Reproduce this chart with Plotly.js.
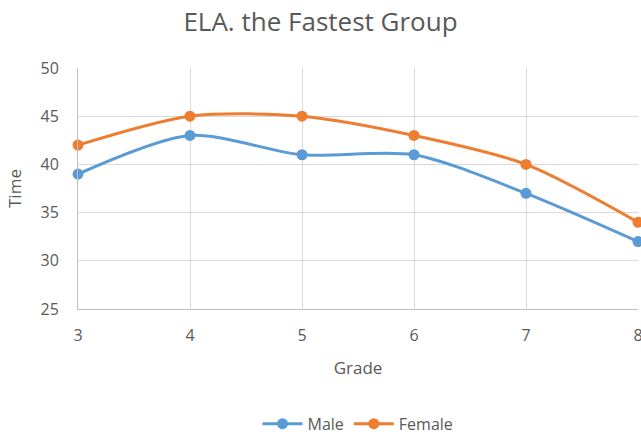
<!DOCTYPE html>
<html>
<head>
<meta charset="utf-8">
<script src="https://cdn.plot.ly/plotly-3.0.1.min.js"></script>
<style>html,body{margin:0;padding:0;background:#fff;}#chart{width:641px;height:436px;}</style>
</head>
<body>
<div id="chart"></div>
<script>
var grades = [3, 4, 5, 6, 7, 8];
var male = [39, 43, 41, 41, 37, 32];
var female = [42, 45, 45, 43, 40, 34];
var seriesNames = ['Male', 'Female'];

var font = 'Open Sans, DejaVu Sans, sans-serif';
var traces = [
  {x: grades, y: male, name: seriesNames[0], type: 'scatter', mode: 'lines+markers',
   line: {color: '#5b9bd5', width: 3, shape: 'spline', smoothing: 0.8},
   marker: {color: '#5b9bd5', size: 11}, cliponaxis: false},
  {x: grades, y: female, name: seriesNames[1], type: 'scatter', mode: 'lines+markers',
   line: {color: '#ed7d31', width: 3, shape: 'spline', smoothing: 0.8},
   marker: {color: '#ed7d31', size: 11}, cliponaxis: false}
];
var layout = {
  width: 641, height: 436,
  margin: {l: 78, r: 3, t: 68, b: 127},
  paper_bgcolor: '#fff', plot_bgcolor: '#fff',
  font: {family: font, color: '#595959', size: 16},
  title: {text: 'ELA. the Fastest Group', x: 0.5, xanchor: 'center', y: 0.95, yanchor: 'middle',
          font: {size: 26, color: '#595959', family: font}},
  xaxis: {range: [3, 8], tickmode: 'array', tickvals: grades, showgrid: true, gridcolor: '#d9d9d9',
          gridwidth: 1, showline: true, linecolor: '#bfbfbf', linewidth: 1, zeroline: false,
          automargin: false,
          ticks: '', ticklabelstandoff: 12, ticklabeloverflow: 'allow',
          tickfont: {size: 16, color: '#595959'},
          title: {text: 'Grade', font: {size: 17, color: '#595959'}, standoff: 16}},
  yaxis: {range: [25, 50], dtick: 5, showgrid: true, gridcolor: '#d9d9d9', gridwidth: 1,
          showline: true, linecolor: '#bfbfbf', linewidth: 1, zeroline: false,
          automargin: false,
          ticks: '', ticklabelstandoff: 15, tickfont: {size: 16, color: '#595959'},
          title: {text: 'Time', font: {size: 17, color: '#595959'}, standoff: 14}},
  legend: {orientation: 'h', x: 0.5, xanchor: 'center', yref: 'container', y: 0.028, yanchor: 'middle',
           font: {size: 16, color: '#595959'}, itemwidth: 40},
  showlegend: true
};
Plotly.newPlot('chart', traces, layout, {displayModeBar: false, staticPlot: true});
</script>
</body>
</html>
